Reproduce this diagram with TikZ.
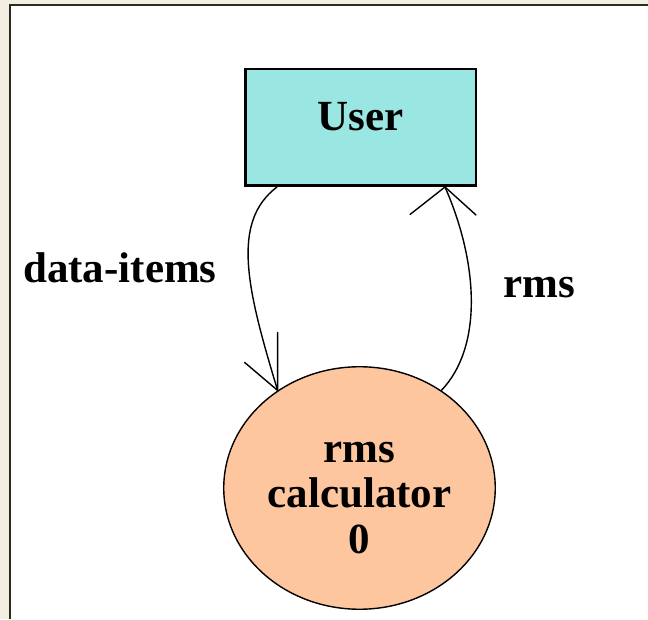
\documentclass[tikz,border=0pt]{standalone}
\usepackage{fontspec}
\setmainfont{Liberation Serif}
\usetikzlibrary{shapes.geometric}

\definecolor{pagecream}{HTML}{F2EFE2}
\definecolor{framedark}{HTML}{2B2A1F}
\definecolor{usercyan}{HTML}{99E6E2}
\definecolor{calcpeach}{HTML}{FEC69F}

\begin{document}
\begin{tikzpicture}[x=1pt, y=1pt,
        bigtext/.style={font=\fontsize{43}{45.5}\selectfont\bfseries, inner sep=0pt},
        extbox/.style={draw, line width=2.5pt, fill=usercyan, minimum width=230.5pt,
            minimum height=116.5pt, inner sep=0pt},
        procbubble/.style={ellipse, draw, line width=1.4pt, fill=calcpeach,
            minimum width=271.5pt, minimum height=242.5pt, inner sep=0pt},
        flow/.style={line width=1.4pt, line cap=round}]
            \useasboundingbox (0,0) rectangle (648,619);

            % page and frame
            \fill[pagecream] (0,0) rectangle (648,619);
            \fill[white] (10,0) rectangle (648,614);
            \draw[framedark, line width=2pt] (10,0)--(10,614)--(648,614);

            \node[extbox, bigtext, text height=30pt, text depth=23.6pt] (user) at (360.5,491.5) {User};

            \node[procbubble] (calc) at (359.5,131) {};
            \node[bigtext, align=center] (calctext) at (359.5,121.3) {rms\\calculator\\0};

            % flows
            \coordinate (dataout) at ([xshift=33pt]user.south west);
            \coordinate (rmsin) at ([xshift=-32pt]user.south east);

            \draw[flow] (dataout) .. controls +(-46.7,-35.3) and +(-30.3,100) .. (calc.130);
            \draw[flow] (calc.130)--+(-33,28) (calc.130)--+(0,58);

            \draw[flow] (calc.50) .. controls +(42,44) and +(33,-75) .. (rmsin);
            \draw[flow] (rmsin)--+(-35,-27.5) (rmsin)--+(31,-28);

            % notation
            \node[bigtext, anchor=base west] (datalabel) at (23,336) {data-items};
            \node[bigtext, anchor=base west] (rmslabel) at (503,321) {rms};
        \end{tikzpicture}
\end{document}
